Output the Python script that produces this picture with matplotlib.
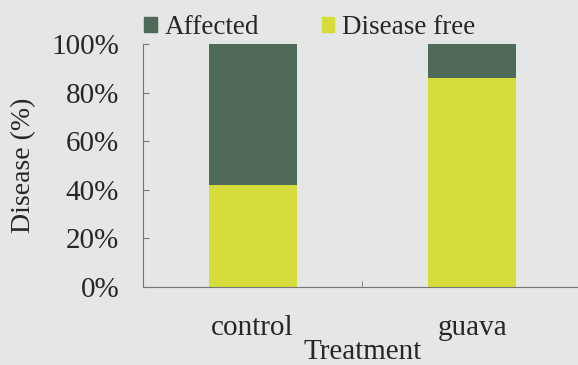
import matplotlib
matplotlib.use("Agg")
import matplotlib.pyplot as plt
from matplotlib.ticker import PercentFormatter
from matplotlib.patches import Patch

categories = ["control", "guava"]
disease_free = [42, 86]
affected = [58, 14]

plt.rcParams['font.family'] = ['Liberation Serif', 'DejaVu Serif']
bg = '#e4e7e6'
c_aff = '#4f6a58'
c_free = '#d6dc3c'
tc = '#262626'

fig = plt.figure(figsize=(5.78, 3.65), dpi=100, facecolor=bg)
ax = fig.add_axes([0.247, 0.214, 0.76, 0.665], facecolor=bg)
x = range(len(categories))
ax.bar(x, disease_free, width=0.4, color=c_free, label='Disease free')
ax.bar(x, affected, width=0.4, bottom=disease_free, color=c_aff, label='Affected')
ax.set_xlim(-0.5, 1.5)
ax.set_ylim(0, 100)
ax.yaxis.set_major_formatter(PercentFormatter(decimals=0))
ax.set_yticks(range(0, 101, 20))
ax.set_xticks(list(x))
ax.set_xticklabels(categories)
ax.set_xticks([0.5], minor=True)
ax.tick_params(axis='x', which='major', length=0, pad=20, labelsize=21, colors=tc)
ax.tick_params(axis='x', which='minor', length=4, direction='in', color='#777777')
ax.tick_params(axis='y', length=4, direction='in', labelsize=21, pad=17, colors=tc, color='#777777')
for s in ['top', 'right']:
    ax.spines[s].set_visible(False)
for s in ['left', 'bottom']:
    ax.spines[s].set_color('#777777')
    ax.spines[s].set_linewidth(0.8)
ax.set_ylabel('Disease (%)', fontsize=20, color=tc)
ax.yaxis.set_label_coords(-0.242, 0.5)
ax.set_xlabel('Treatment', fontsize=21, color=tc)
ax.xaxis.set_label_coords(0.5, -0.215)
handles = [Patch(color=c_aff, label='Affected'), Patch(color=c_free, label='Disease free')]
fig.legend(handles=handles, loc='center', bbox_to_anchor=(0.536, 0.925), ncol=2, frameon=False,
           fontsize=19.5, handlelength=0.45, handleheight=0.45, handletextpad=0.3, columnspacing=2.3,
           labelcolor=tc)
fig.savefig('out.png', dpi=100, facecolor=bg)
